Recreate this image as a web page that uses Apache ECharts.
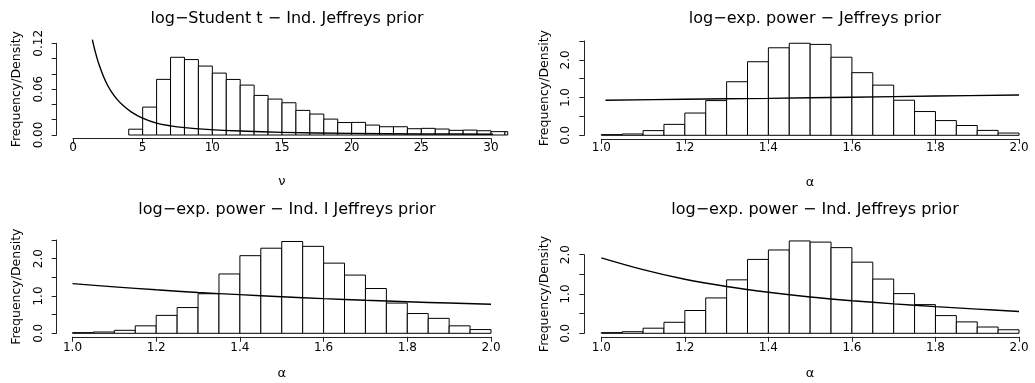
<!DOCTYPE html>
<html>
<head>
<meta charset="utf-8">
<script src="https://cdn.jsdelivr.net/npm/echarts@6/dist/echarts.min.js"></script>
<style>
html,body{margin:0;padding:0;background:#fff;}
#chart{width:1035px;height:383px;}
</style>
</head>
<body>
<div id="chart"></div>
<script>
// ---------------- data ----------------
const titles = [
  'log\u2212Student t \u2212 Ind. Jeffreys prior',
  'log\u2212exp. power \u2212 Jeffreys prior',
  'log\u2212exp. power \u2212 Ind. I Jeffreys prior',
  'log\u2212exp. power \u2212 Ind. Jeffreys prior'
];
const yAxisTitle = 'Frequency/Density';
const xTitleNu = '\u03bd';
const xTitleAlpha = '\u03b1';

// panel 1: nu histogram (bin width 1)
const nuBinStart = [4,5,6,7,8,9,10,11,12,13,14,15,16,17,18,19,20,21,22,23,24,25,26,27,28,29,30,31];
const nuBinWidth = 1;
const nuDensity = [0.0076,0.0365,0.0728,0.1017,0.0987,0.0902,0.0810,0.0727,0.0653,0.0518,0.0470,0.0422,0.0322,0.0274,0.0208,0.0163,0.0165,0.0130,0.0108,0.0108,0.0082,0.0087,0.0078,0.0061,0.0064,0.0056,0.0044,0.0044];
const nuPriorX = [1.39,1.5,1.62,1.75,1.9,2.05,2.25,2.5,2.8,3.15,3.6,4.2,4.95,6.0,7.0,8.0,9.6,12,15,20,25,31.2];
const nuPriorY = [0.1248,0.1160,0.1075,0.0990,0.0905,0.0830,0.0740,0.0645,0.0555,0.0470,0.0385,0.0300,0.0225,0.0155,0.0120,0.0097,0.0074,0.0052,0.0035,0.0021,0.0014,0.0010];
const nuTicks = [0,5,10,15,20,25,30];
const nuYTicks = [0,0.02,0.04,0.06,0.08,0.10,0.12];
const nuYLabels = [0,0.06,0.12];

// alpha histograms (bin width 0.05)
const alphaBinStart = [1.00,1.05,1.10,1.15,1.20,1.25,1.30,1.35,1.40,1.45,1.50,1.55,1.60,1.65,1.70,1.75,1.80,1.85,1.90,1.95];
const alphaBinWidth = 0.05;
const alphaDensityJ    = [0.018,0.035,0.124,0.29,0.59,0.92,1.42,1.95,2.32,2.44,2.41,2.07,1.66,1.33,0.93,0.63,0.39,0.26,0.13,0.06];
const alphaDensityInd1 = [0.018,0.035,0.08,0.20,0.48,0.69,1.06,1.59,2.08,2.28,2.46,2.33,1.88,1.56,1.20,0.81,0.53,0.40,0.20,0.10];
const alphaDensityInd  = [0.017,0.04,0.13,0.28,0.58,0.90,1.36,1.88,2.12,2.35,2.32,2.18,1.81,1.38,1.01,0.73,0.45,0.29,0.16,0.09];

const priorJX = [1.01,1.2,1.4,1.6,1.8,2.0];
const priorJY = [0.93,0.955,0.98,1.01,1.04,1.07];
const priorInd1X = [1.0,1.1,1.2,1.3,1.4,1.5,1.6,1.7,1.8,1.9,2.0];
const priorInd1Y = [1.33,1.245,1.165,1.095,1.035,0.98,0.93,0.885,0.845,0.81,0.78];
const priorIndX = [1.0,1.1,1.2,1.3,1.4,1.5,1.6,1.7,1.8,1.9,2.0];
const priorIndY = [1.92,1.62,1.375,1.19,1.045,0.925,0.83,0.75,0.68,0.615,0.555];

const alphaTicks = [1.0,1.2,1.4,1.6,1.8,2.0];
const alphaYTicks25 = [0,0.5,1.0,1.5,2.0,2.5];
const alphaYTicks20 = [0,0.5,1.0,1.5,2.0];
const alphaYLabels = [0,1,2];

// ---------------- layout ----------------
const FONT = 'DejaVu Sans';
const W = 1035, H = 383;
const panels = [
  {left:73,    right:W-491,  top:43.3, bottom:H-135,   xMin:0, xMax:30, yMax:0.12, xoff:3.5, lm:3, ng:37, clipX:31.2, titleX:282, titleY:6, axisX:56.7},
  {left:601.3, right:W-1019, top:41,   bottom:H-135.3, xMin:1, xMax:2,  yMax:2.5,  xoff:3.5, lm:3, ng:37, clipX:2.04, titleX:810, titleY:6, axisX:584.3},
  {left:72.5,  right:W-491,  top:240,  bottom:H-333.3, xMin:1, xMax:2,  yMax:2.5,  xoff:3.5, lm:5, ng:30, clipX:2.04, titleX:282, titleY:197, axisX:56.7},
  {left:601.3, right:W-1019, top:254.7,bottom:H-333.3, xMin:1, xMax:2,  yMax:2.0,  xoff:3.5, lm:5, ng:30, clipX:2.04, titleX:810, titleY:197, axisX:584.3}
];

function histData(starts, width, dens){
  return starts.map((s,i)=>[s, s+width, dens[i]]);
}
function makeHist(clipX){
  return function(params, api){
    const x0 = api.value(0);
    const x1 = Math.min(api.value(1), clipX);
    const h = api.value(2);
    const p0 = api.coord([x0, 0]);
    const p1 = api.coord([x1, h]);
    return {
      type:'rect',
      shape:{x:p0[0], y:p1[1], width:p1[0]-p0[0], height:p0[1]-p1[1]},
      style:{fill:'#ffffff', stroke:'#000000', lineWidth:1}
    };
  };
}
function zip(xs, ys){ return xs.map((x,i)=>[x, ys[i]]); }

const histSets = [
  histData(nuBinStart, nuBinWidth, nuDensity),
  histData(alphaBinStart, alphaBinWidth, alphaDensityJ),
  histData(alphaBinStart, alphaBinWidth, alphaDensityInd1),
  histData(alphaBinStart, alphaBinWidth, alphaDensityInd)
];
const curveSets = [
  zip(nuPriorX, nuPriorY),
  zip(priorJX, priorJY),
  zip(priorInd1X, priorInd1Y),
  zip(priorIndX, priorIndY)
];
const xTickSets = [nuTicks, alphaTicks, alphaTicks, alphaTicks];
const yTickSets = [nuYTicks, alphaYTicks25, alphaYTicks25, alphaYTicks20];
const yLabelSets = [nuYLabels, alphaYLabels, alphaYLabels, alphaYLabels];
const xNames = [xTitleNu, xTitleAlpha, xTitleAlpha, xTitleAlpha];

const axisColor = '#222';
const option = {
  animation:false,
  backgroundColor:'#ffffff',
  title: panels.map((p,i)=>({
    text: titles[i], left: p.titleX, top: p.titleY, textAlign:'center',
    textStyle:{fontFamily:FONT, fontSize:16, fontWeight:'normal', color:'#000'}
  })),
  grid: panels.map(p=>({left:p.left, right:p.right, top:p.top, bottom:p.bottom, containLabel:false})),
  xAxis: panels.map((p,i)=>({
    type:'value', gridIndex:i, min:p.xMin, max:p.xMax, offset:p.xoff,
    name: xNames[i], nameLocation:'middle', nameGap:p.ng,
    nameTextStyle:{fontFamily:FONT, fontSize:13, color:'#000'},
    axisLine:{show:true, onZero:false, lineStyle:{color:axisColor, width:1}},
    axisTick:{show:true, length:5, customValues:xTickSets[i], lineStyle:{color:axisColor, width:1}},
    axisLabel:{show:true, customValues:xTickSets[i], margin:p.lm, fontFamily:FONT, fontSize:12, color:'#000',
      formatter: v => i===0 ? String(Math.round(v)) : Number(v).toFixed(1)},
    splitLine:{show:false}
  })),
  yAxis: panels.map((p,i)=>({
    type:'value', gridIndex:i, min:0, max:p.yMax, offset:(p.left - p.axisX),
    name: yAxisTitle, nameLocation:'middle', nameGap:33, nameRotate:90,
    nameTextStyle:{fontFamily:FONT, fontSize:12.5, color:'#000'},
    axisLine:{show:true, onZero:false, lineStyle:{color:axisColor, width:1}},
    axisTick:{show:true, length:5, customValues:yTickSets[i], lineStyle:{color:axisColor, width:1}},
    axisLabel:{show:true, customValues:yLabelSets[i], rotate:90, margin:12, fontFamily:FONT, fontSize:12, color:'#000',
      formatter: v => i===0 ? Number(v).toFixed(2) : Number(v).toFixed(1)},
    splitLine:{show:false}
  })),
  series: [].concat(
    panels.map((p,i)=>({
      type:'custom', xAxisIndex:i, yAxisIndex:i, clip:false,
      renderItem: makeHist(p.clipX),
      encode:{x:[0,1], y:2},
      data: histSets[i], z:2
    })),
    panels.map((p,i)=>({
      type:'line', xAxisIndex:i, yAxisIndex:i, clip:false,
      data: curveSets[i], showSymbol:false, smooth:0.35,
      lineStyle:{color:'#000', width:1.4}, z:3
    }))
  )
};
const chart = echarts.init(document.getElementById('chart'), null, {renderer:'canvas'});
chart.setOption(option);
</script>
</body>
</html>
